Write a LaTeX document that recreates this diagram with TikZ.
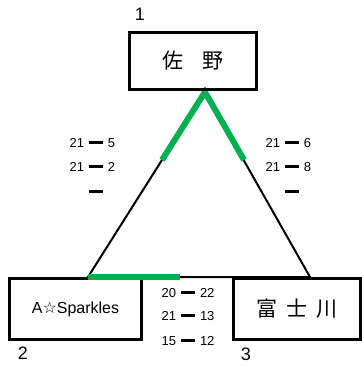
\documentclass[tikz,border=0pt]{standalone}
\usepackage{fontspec}
\setmainfont{Liberation Sans}
\newfontfamily\jp{Noto Sans CJK JP}
\newfontfamily\djv{DejaVu Sans}
\definecolor{tgreen}{RGB}{0,176,80}
\newcommand{\scoreline}[2]{\makebox[15pt][r]{#1}\hspace{5pt}\rule[3pt]{14pt}{3pt}\hspace{5pt}\makebox[15pt][l]{#2}}
\begin{document}
\begin{tikzpicture}[x=1pt,y=-1pt,
  team/.style={draw,line width=3pt,inner sep=0pt},
  score/.style={inner sep=0pt,anchor=base,font=\fontsize{13}{13}\selectfont},
  lbl/.style={inner sep=0pt,font=\fontsize{18}{18}\selectfont},
  edge/.style={line width=2pt,line join=miter},
  win/.style={line width=6pt,tgreen,line join=miter}]
\useasboundingbox (0,0) rectangle (362,365);
% triangle corners
\coordinate (apex) at (205,92);
\coordinate (bl) at (88,277);
\coordinate (br) at (310,277);
\coordinate (lm) at (162,160);
\coordinate (rm) at (244,160);
\coordinate (bm) at (180,277);
% black triangle
\draw[edge] (bl) -- (apex) -- (br) -- cycle;
% green wins near apex
\draw[win] (lm) -- (apex) -- (rm);
% team boxes
\node[team,minimum width=127pt,minimum height=57pt,font=\fontsize{21}{21}\selectfont\jp] (t1) at (193,61) {佐\hspace{20pt}野};
\node[team,minimum width=132pt,minimum height=61pt,font=\fontsize{16}{16}\selectfont] (t2) at (75.5,309) {A{\djv ☆}Sparkles};
\node[team,minimum width=127pt,minimum height=61pt,font=\fontsize{21}{21}\selectfont\jp] (t3) at (297,309) {富\hspace{9pt}士\hspace{9pt}川};
% green base win
\draw[win] (bl) -- (bm);
% seed labels
\node[lbl] (n1) at (140,14) {1};
\node[lbl] (n2) at (23,353) {2};
\node[lbl] (n3) at (246,354) {3};
% scores left
\node[score] (s11) at (96,147) {\scoreline{21}{5}};
\node[score] (s12) at (96,171) {\scoreline{21}{2}};
\node[score] (s13) at (96,196) {\scoreline{}{}};
% scores right
\node[score] (s21) at (292,147) {\scoreline{21}{6}};
\node[score] (s22) at (292,171) {\scoreline{21}{8}};
\node[score] (s23) at (292,196) {\scoreline{}{}};
% scores bottom
\node[score] (s31) at (188,297) {\scoreline{20}{22}};
\node[score] (s32) at (188,320) {\scoreline{21}{13}};
\node[score] (s33) at (188,345) {\scoreline{15}{12}};
\end{tikzpicture}
\end{document}
